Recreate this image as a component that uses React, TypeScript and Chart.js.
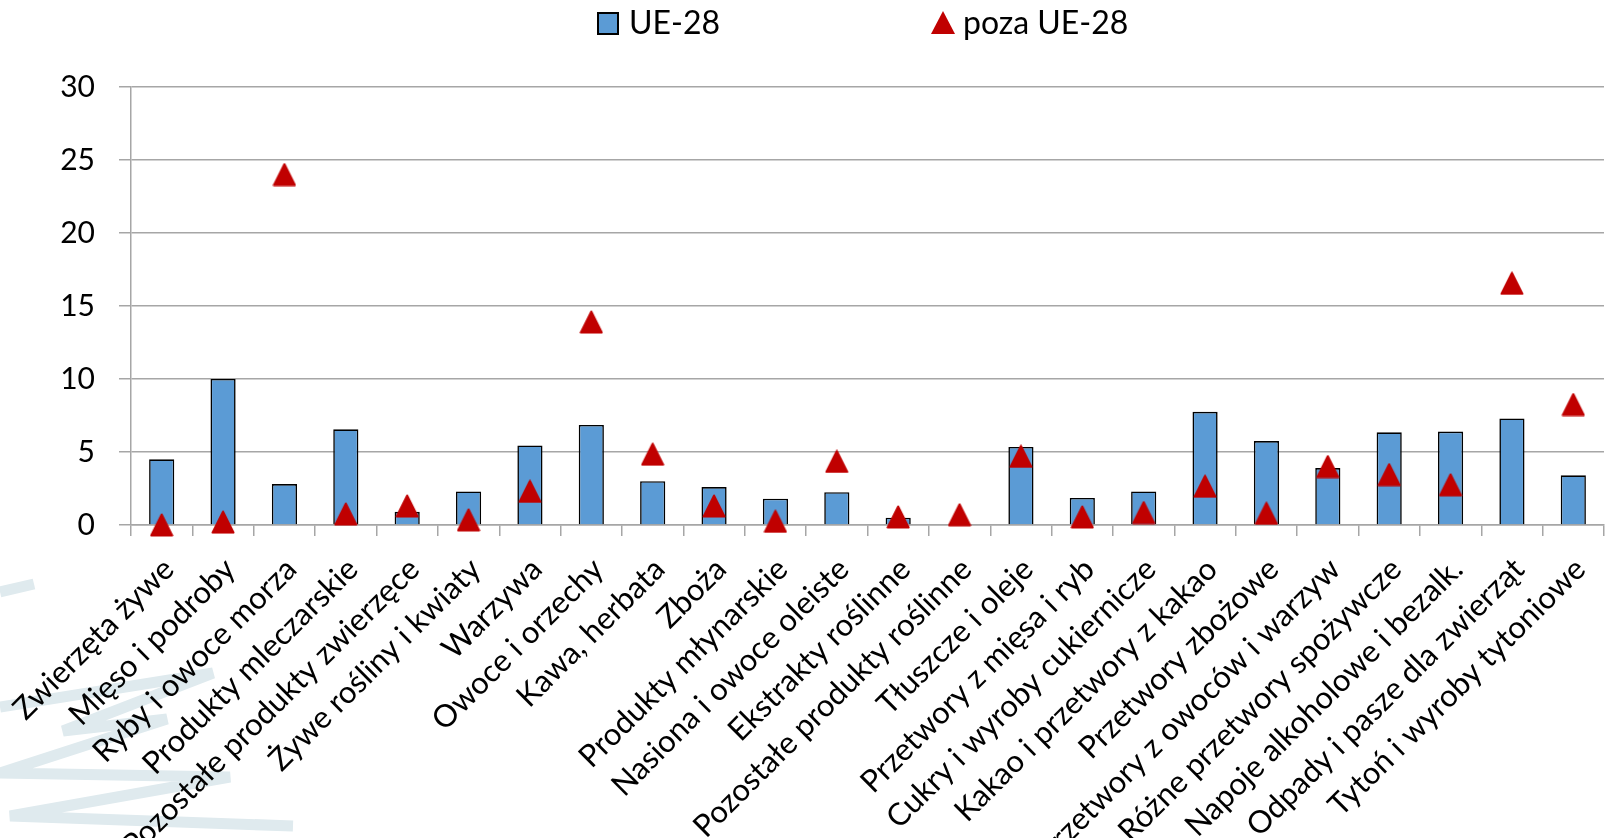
import React, { useEffect, useRef } from "react";
import { Chart, registerables } from "chart.js";

Chart.register(...registerables);

const categories = [
  "Zwierzęta żywe",
  "Mięso i podroby",
  "Ryby i owoce morza",
  "Produkty mleczarskie",
  "Pozostałe produkty zwierzęce",
  "Żywe rośliny i kwiaty",
  "Warzywa",
  "Owoce i orzechy",
  "Kawa, herbata",
  "Zboża",
  "Produkty młynarskie",
  "Nasiona i owoce oleiste",
  "Ekstrakty roślinne",
  "Pozostałe produkty roślinne",
  "Tłuszcze i oleje",
  "Przetwory z mięsa i ryb",
  "Cukry i wyroby cukiernicze",
  "Kakao i przetwory z kakao",
  "Przetwory zbożowe",
  "Przetwory z owoców i warzyw",
  "Różne przetwory spożywcze",
  "Napoje alkoholowe i bezalk.",
  "Odpady i pasze dla zwierząt",
  "Tytoń i wyroby tytoniowe",
];

const ueValues = [4.5, 10.0, 2.8, 6.55, 0.9, 2.3, 5.45, 6.85, 3.0, 2.6, 1.8, 2.25, 0.5, 0, 5.35, 1.85, 2.3, 7.75, 5.75, 3.9, 6.35, 6.4, 7.3, 3.4];
const nonUeValues = [0.0, 0.2, 24.0, 0.75, 1.3, 0.35, 2.3, 13.9, 4.85, 1.3, 0.25, 4.35, 0.55, 0.7, 4.7, 0.55, 0.85, 2.65, 0.8, 4.0, 3.45, 2.75, 16.55, 8.25];

const seriesNames = ["UE-28", "poza UE-28"];
const yMin = 0;
const yMax = 30;
const yStep = 5;

const BLUE = "#5b9bd5";
const RED = "#c00000";
const GRID = "#a6a6a6";
const FONT = "Lato";
const WATERMARK = "#dfeaee";

function makeTriangle(size: number): HTMLCanvasElement {
  const c = document.createElement("canvas");
  c.width = size;
  c.height = size;
  const g = c.getContext("2d")!;
  g.fillStyle = RED;
  g.strokeStyle = RED;
  g.lineJoin = "round";
  g.lineWidth = 2;
  g.beginPath();
  g.moveTo(size / 2, 1.5);
  g.lineTo(size - 1.5, size - 1.5);
  g.lineTo(1.5, size - 1.5);
  g.closePath();
  g.fill();
  g.stroke();
  return c;
}

export default function App() {
  const ref = useRef<HTMLCanvasElement | null>(null);

  useEffect(() => {
    if (!ref.current) return;
    const tri = makeTriangle(24);
    const chart = new Chart(ref.current, {
      type: "bar",
      data: {
        labels: categories,
        datasets: [
          {
            type: "line",
            label: seriesNames[1],
            data: nonUeValues,
            showLine: false,
            pointStyle: tri as any,
            pointRadius: 12,
            pointHoverRadius: 12,
            backgroundColor: RED,
            borderColor: RED,
            order: 0,
            clip: false as any,
          } as any,
          {
            type: "bar",
            label: seriesNames[0],
            data: ueValues,
            backgroundColor: BLUE,
            borderColor: "#000000",
            borderWidth: 1.6,
            barPercentage: 0.41,
            categoryPercentage: 1.0,
            order: 1,
          },
        ],
      },
      options: {
        responsive: false,
        animation: false,
        devicePixelRatio: 1,
        layout: { padding: { top: 87, left: 0, right: 0, bottom: 0 } },
        plugins: {
          legend: { display: false },
          tooltip: { enabled: false },
        },
        scales: {
          x: {
            offset: true,
            grid: {
              offset: true,
              drawOnChartArea: false,
              drawTicks: true,
              tickLength: 11,
              color: GRID,
              lineWidth: 1.5,
            },
            border: { color: GRID, width: 1.5 },
            ticks: {
              autoSkip: false,
              minRotation: 45,
              maxRotation: 45,
              padding: 15,
              labelOffset: 7,
              color: "#000000",
              font: { family: FONT, size: 31 },
            },
            afterFit: (scale: any) => {
              scale.height = 313;
              scale.paddingLeft = 0;
              scale.paddingRight = 0;
            },
          },
          y: {
            min: yMin,
            max: yMax,
            ticks: {
              stepSize: yStep,
              padding: 24,
              color: "#000000",
              font: { family: FONT, size: 30 },
            },
            grid: {
              color: GRID,
              lineWidth: 1.5,
              tickLength: 12,
              drawTicks: true,
            },
            border: { color: GRID, width: 1.5 },
            afterFit: (scale: any) => {
              scale.width = 131;
              scale.paddingTop = 0;
              scale.paddingBottom = 0;
            },
          },
        },
      },
    });
    return () => chart.destroy();
  }, []);

  return (
    <div
      style={{
        position: "absolute",
        left: 0,
        top: 0,
        width: 1613,
        height: 838,
        background: "#ffffff",
        fontFamily: FONT,
        overflow: "hidden",
      }}
    >
      <svg width={1613} height={838} style={{ position: "absolute", left: 0, top: 0 }}>
        <g fill="none" stroke={WATERMARK} strokeWidth={11} strokeLinejoin="miter" strokeLinecap="butt">
          <polyline points="0,592 34,584" />
          <polyline points="0,707 213,673 63,731 167,719 0,773 230,777 10,816 293,826" />
        </g>
      </svg>
      <canvas ref={ref} width={1617} height={838} style={{ position: "absolute", left: 0, top: 0 }} />
      <div style={{ position: "absolute", left: 597, top: 12, width: 18, height: 19, background: BLUE, border: "2px solid #000" }} />
      <div style={{ position: "absolute", left: 629, top: 6, fontSize: 32, lineHeight: "32px", color: "#000" }}>{seriesNames[0]}</div>
      <div
        style={{
          position: "absolute",
          left: 931,
          top: 11,
          width: 24,
          height: 23,
          background: RED,
          clipPath: "polygon(50% 0, 100% 100%, 0 100%)",
        }}
      />
      <div style={{ position: "absolute", left: 963, top: 6, fontSize: 32, lineHeight: "32px", color: "#000" }}>{seriesNames[1]}</div>
    </div>
  );
}
